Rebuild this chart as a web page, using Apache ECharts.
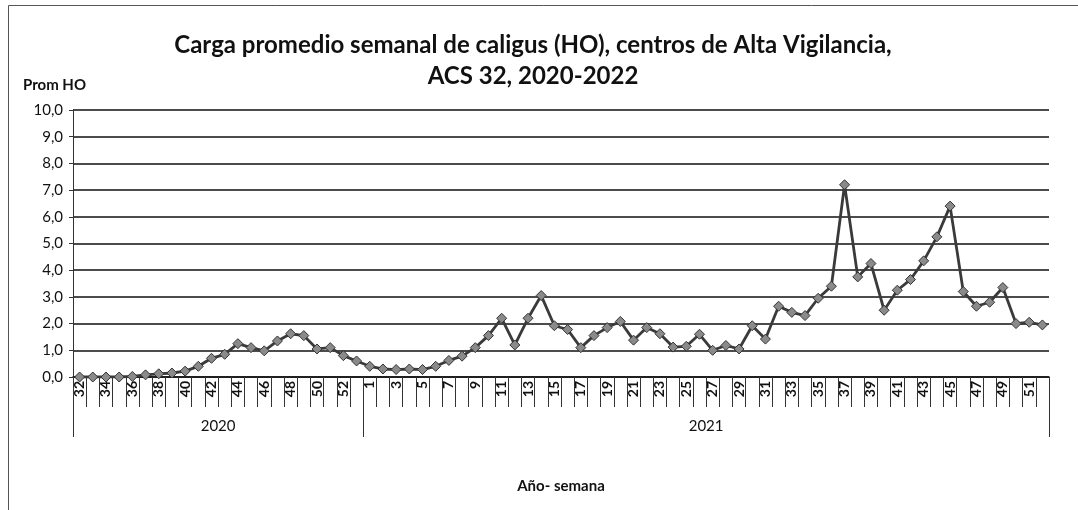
<!DOCTYPE html>
<html>
<head>
<meta charset="utf-8">
<script src="https://cdn.jsdelivr.net/npm/echarts@6/dist/echarts.min.js"></script>
<style>
  html, body { margin: 0; padding: 0; background: #fff; }
  #chart { width: 1078px; height: 510px; }
</style>
</head>
<body>
<div id="chart"></div>
<script>
// semanas 2020 (32..53) y 2021 (1..52)
const weeks2020 = [32, 33, 34, 35, 36, 37, 38, 39, 40, 41, 42, 43, 44, 45, 46, 47, 48, 49, 50, 51, 52, 53];
const weeks2021 = Array.from({ length: 52 }, (_, i) => i + 1);

const values2020 = [0, 0, 0, 0, 0.02, 0.08, 0.12, 0.15, 0.22, 0.4, 0.7, 0.85, 1.25, 1.1, 0.98, 1.35, 1.62, 1.55, 1.05, 1.1, 0.8, 0.6];
const values2021 = [0.4, 0.3, 0.28, 0.3, 0.28, 0.4, 0.62, 0.78, 1.1, 1.55,
  2.2, 1.2, 2.2, 3.05, 1.92, 1.78, 1.1, 1.55, 1.85, 2.08,
  1.38, 1.85, 1.62, 1.12, 1.15, 1.6, 1.0, 1.18, 1.05, 1.92,
  1.42, 2.65, 2.42, 2.3, 2.95, 3.4, 7.2, 3.75, 4.25, 2.5,
  3.25, 3.65, 4.35, 5.25, 6.4, 3.2, 2.65, 2.8, 3.35, 2.0,
  2.05, 1.95];

const years = ['2020', '2021'];

const categories = weeks2020.concat(weeks2021).map(String);
const values = values2020.concat(values2021);
const nTotal = categories.length;
const yearBounds = [0, weeks2020.length, nTotal];
const yearCenters = [weeks2020.length / 2, weeks2020.length + weeks2021.length / 2];

const FONT = 'Lato, "Open Sans", sans-serif';

const chart = echarts.init(document.getElementById('chart'), null, { renderer: 'canvas' });

const option = {
  animation: false,
  backgroundColor: '#fff',
  title: [{
    text: 'Carga promedio semanal de caligus (HO), centros de Alta Vigilancia,\nACS 32, 2020-2022',
    left: 528,
    top: 25,
    textAlign: 'center',
    textStyle: {
      fontFamily: FONT,
      fontSize: 24,
      fontWeight: 'bold',
      color: '#111',
      lineHeight: 31
    }
  }, {
    text: 'Prom HO',
    left: 18,
    top: 73,
    textStyle: {
      fontFamily: FONT,
      fontSize: 15,
      fontWeight: 'bold',
      color: '#111'
    }
  }],
  graphic: [{
    type: 'rect',
    shape: { x: 8.5, y: 5.5, width: 1200, height: 600 },
    style: { fill: 'none', stroke: '#555', lineWidth: 1 }
  }],
  grid: {
    left: 73,
    right: 29,
    top: 110,
    bottom: 133
  },
  xAxis: [{
    type: 'category',
    data: categories,
    boundaryGap: true,
    axisLine: { show: true, lineStyle: { color: '#111', width: 1.5 } },
    axisTick: { show: true, interval: 0, length: 30, lineStyle: { color: '#333', width: 1 } },
    axisLabel: {
      interval: 1,
      rotate: 90,
      margin: 4,
      fontFamily: FONT,
      fontSize: 14,
      fontWeight: 'bold',
      color: '#111'
    }
  }, {
    type: 'value',
    position: 'bottom',
    min: 0,
    max: nTotal,
    axisLine: { show: false },
    splitLine: { show: false },
    axisTick: {
      show: true,
      customValues: yearBounds,
      length: 60,
      lineStyle: { color: '#333', width: 1 }
    },
    axisLabel: {
      customValues: yearCenters,
      margin: 42,
      fontFamily: FONT,
      fontSize: 15,
      color: '#111',
      formatter: (v) => years[yearCenters.indexOf(v)] || ''
    },
    name: 'Año- semana',
    nameLocation: 'middle',
    nameGap: 102,
    nameTextStyle: {
      fontFamily: FONT,
      fontSize: 15,
      fontWeight: 'bold',
      color: '#111'
    }
  }],
  yAxis: {
    type: 'value',
    min: 0,
    max: 10,
    interval: 1,
    axisLine: { show: true, lineStyle: { color: '#333', width: 1 } },
    axisTick: { show: true, length: 4, lineStyle: { color: '#333' } },
    splitLine: { show: true, lineStyle: { color: '#111', width: 1.5 } },
    axisLabel: {
      margin: 10,
      fontFamily: FONT,
      fontSize: 15,
      color: '#111',
      formatter: (v) => v.toFixed(1).replace('.', ',')
    }
  },
  series: [{
    type: 'line',
    xAxisIndex: 0,
    data: values,
    symbol: 'diamond',
    symbolSize: 10,
    showAllSymbol: true,
    itemStyle: { color: '#8a8a8a', borderColor: '#333', borderWidth: 1 },
    lineStyle: { color: '#3a3a3a', width: 2.8 },
    z: 5
  }]
};

chart.setOption(option);
</script>
</body>
</html>
